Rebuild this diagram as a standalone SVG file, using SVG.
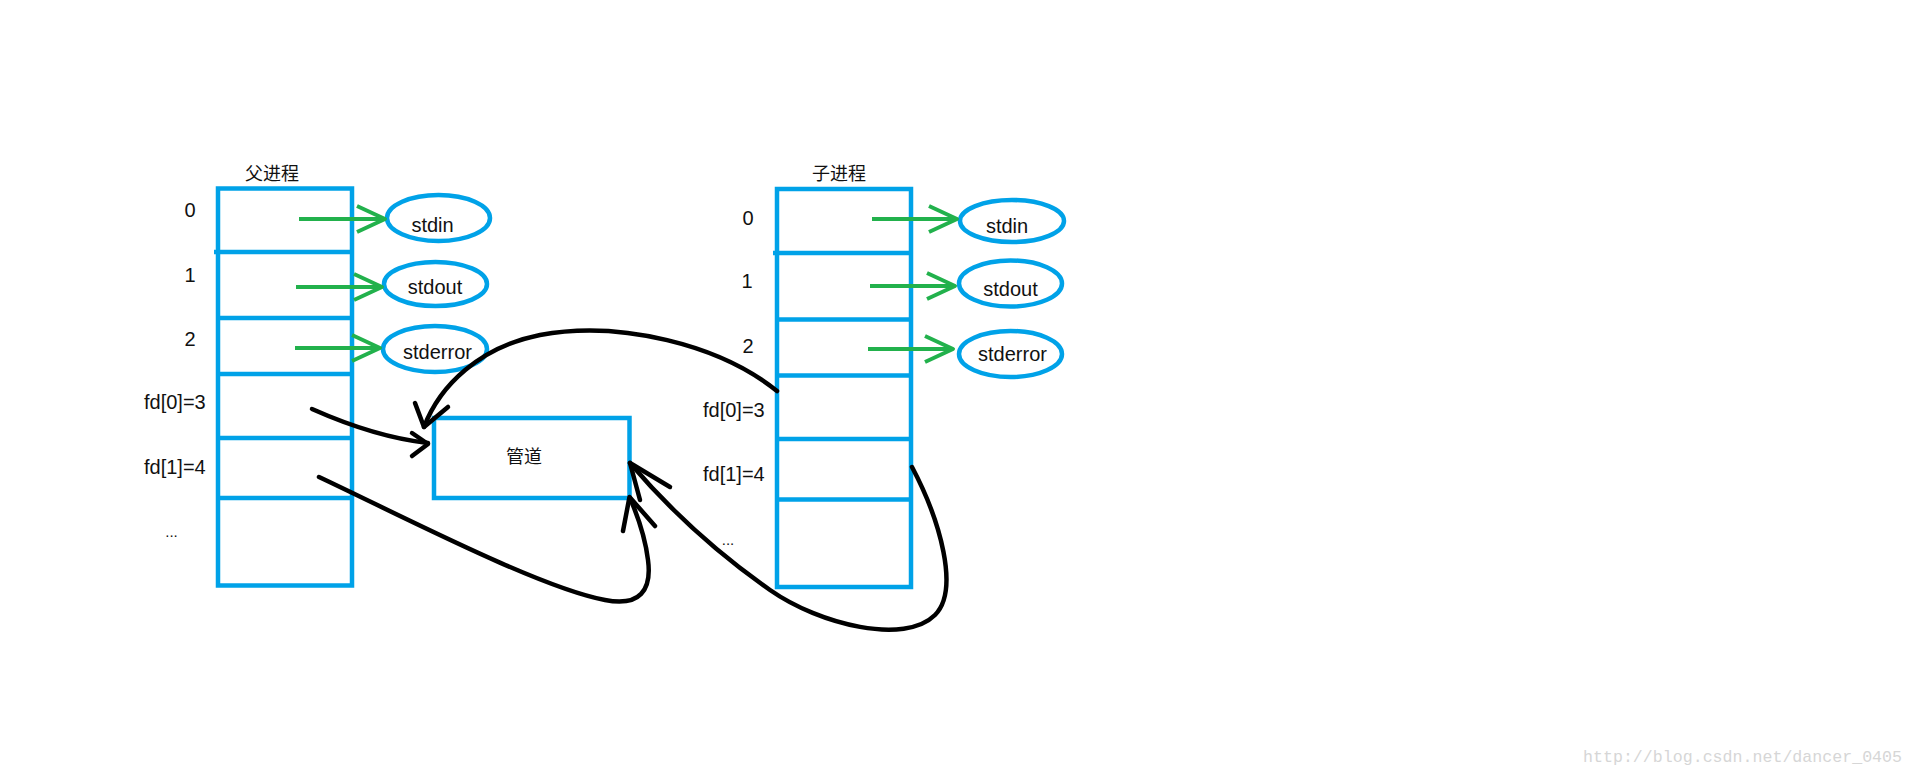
<svg xmlns="http://www.w3.org/2000/svg" width="1914" height="775" viewBox="0 0 1914 775">
<style>
.box{fill:none;stroke:#00a2e8;stroke-width:4.5}
.div{stroke:#00a2e8;stroke-width:4.5}
.ell{fill:none;stroke:#00a2e8;stroke-width:4.5}
.g{stroke:#22b14c;stroke-width:4;fill:none}
.k{stroke:#000;stroke-width:4.5;fill:none;stroke-linecap:round;stroke-linejoin:round}
.t{font-family:"Liberation Sans",Arial,sans-serif;font-size:20px;fill:#111}
.c{font-family:"Noto Sans CJK SC","Microsoft YaHei",sans-serif;font-size:18px;fill:#111}
.w{font-family:"Liberation Mono","Courier New",monospace;font-size:16.6px;fill:#d6d6d6}
</style>
<defs>
<marker id="ga" markerUnits="userSpaceOnUse" viewBox="-32 -16 36 32" refX="0" refY="0" markerWidth="36" markerHeight="32" orient="auto" overflow="visible">
<path d="M-28,-13 L0,0 L-28,13" fill="none" stroke="#22b14c" stroke-width="4" stroke-linejoin="round"/>
</marker>
</defs>
<rect width="1914" height="775" fill="#fff"/>

<g id="parent">
<text class="c" x="245" y="180">父进程</text>
<rect class="box" x="218" y="188.5" width="134" height="397"/>
<line class="div" x1="214" y1="252" x2="352" y2="252"/>
<line class="div" x1="218" y1="318" x2="352" y2="318"/>
<line class="div" x1="218" y1="374" x2="352" y2="374"/>
<line class="div" x1="218" y1="438" x2="352" y2="438"/>
<line class="div" x1="218" y1="498" x2="352" y2="498"/>
<text class="t" x="190" y="217" text-anchor="middle">0</text>
<text class="t" x="190" y="282" text-anchor="middle">1</text>
<text class="t" x="190" y="346" text-anchor="middle">2</text>
<text class="t" x="144" y="409">fd[0]=3</text>
<text class="t" x="144" y="474">fd[1]=4</text>
<text class="t" x="171.5" y="537" text-anchor="middle" style="font-size:15px">...</text>
</g>

<g id="p-stdin"><ellipse class="ell" cx="438.5" cy="218" rx="51.5" ry="23"/><text class="t" x="432.5" y="232" text-anchor="middle">stdin</text></g>
<g id="p-stdout"><ellipse class="ell" cx="435.5" cy="284" rx="51.5" ry="22"/><text class="t" x="435" y="294" text-anchor="middle">stdout</text></g>
<g id="p-stderror"><ellipse class="ell" cx="435" cy="349" rx="52" ry="23"/><text class="t" x="437.5" y="359" text-anchor="middle">stderror</text></g>

<g id="child">
<text class="c" x="812" y="180">子进程</text>
<rect class="box" x="777" y="189" width="134" height="398"/>
<line class="div" x1="773" y1="253" x2="911" y2="253"/>
<line class="div" x1="777" y1="319.5" x2="911" y2="319.5"/>
<line class="div" x1="777" y1="375.5" x2="911" y2="375.5"/>
<line class="div" x1="777" y1="439" x2="911" y2="439"/>
<line class="div" x1="777" y1="499.5" x2="911" y2="499.5"/>
<text class="t" x="748" y="225" text-anchor="middle">0</text>
<text class="t" x="747" y="288" text-anchor="middle">1</text>
<text class="t" x="748" y="353" text-anchor="middle">2</text>
<text class="t" x="703" y="417">fd[0]=3</text>
<text class="t" x="703" y="481">fd[1]=4</text>
<text class="t" x="728" y="545" text-anchor="middle" style="font-size:15px">...</text>
</g>

<g id="c-stdin"><ellipse class="ell" cx="1012" cy="221" rx="52" ry="21"/><text class="t" x="1007" y="233" text-anchor="middle">stdin</text></g>
<g id="c-stdout"><ellipse class="ell" cx="1010.5" cy="283.5" rx="51.5" ry="23"/><text class="t" x="1010.5" y="296" text-anchor="middle">stdout</text></g>
<g id="c-stderror"><ellipse class="ell" cx="1010.5" cy="354" rx="51.5" ry="23"/><text class="t" x="1012.5" y="361" text-anchor="middle">stderror</text></g>

<g id="pipe">
<rect class="box" x="434" y="418" width="195.5" height="80"/>
<text class="c" x="506" y="463">管道</text>
</g>

<g id="connectors">
<line class="g" x1="299" y1="219" x2="385" y2="219" marker-end="url(#ga)"/>
<line class="g" x1="296" y1="287" x2="382" y2="287" marker-end="url(#ga)"/>
<line class="g" x1="295" y1="348" x2="380" y2="348" marker-end="url(#ga)"/>
<line class="g" x1="872" y1="219" x2="957" y2="219" marker-end="url(#ga)"/>
<line class="g" x1="870" y1="286" x2="955" y2="286" marker-end="url(#ga)"/>
<line class="g" x1="868" y1="349" x2="953" y2="349" marker-end="url(#ga)"/>

<path class="k" d="M312,409 Q375,437 428,443"/>
<path class="k" d="M412,433 L428,444 L412,456"/>

<path class="k" d="M319,477 C400,515 540,588 605,600 C640,607 652,590 648,560 C645,535 636,512 630,498"/>
<path class="k" d="M623,531 L629.5,497 L655,526"/>

<path class="k" d="M777,391 C720,345 620,320 540,335 C480,347 440,385 424,427"/>
<path class="k" d="M415,403 L424,427 L448,407"/>

<path class="k" d="M912,467 C940,520 960,590 935,615 C905,645 820,625 770,590 C720,555 670,510 630,463"/>
<path class="k" d="M640,500 L630,463 L670,487"/>
</g>

<text class="w" x="1583" y="762" textLength="319">http://blog.csdn.net/dancer_0405</text>
</svg>
